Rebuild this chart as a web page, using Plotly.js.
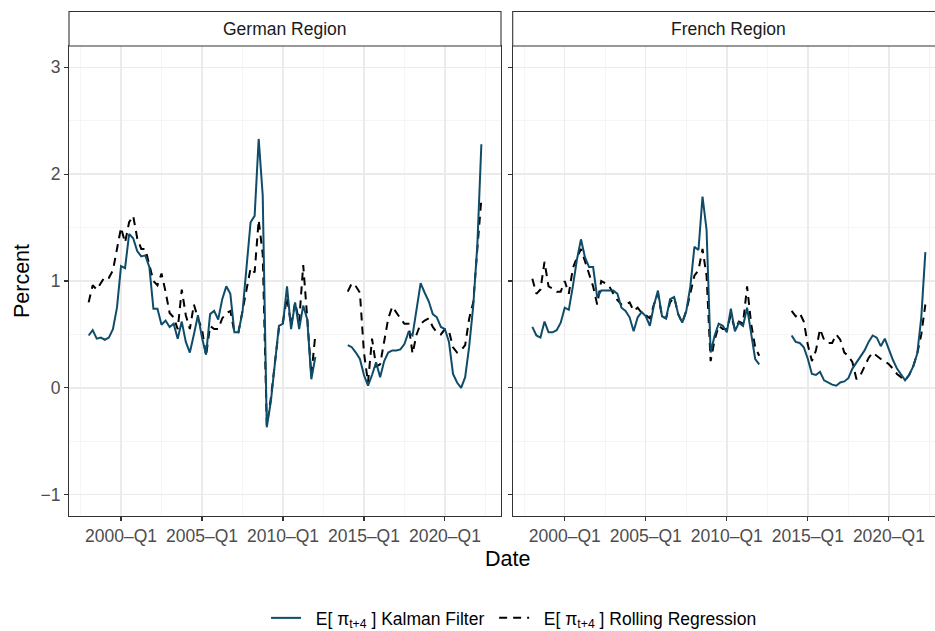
<!DOCTYPE html>
<html>
<head>
<meta charset="utf-8">
<script src="https://cdn.plot.ly/plotly-3.0.1.min.js"></script>
<style>
html,body{margin:0;padding:0;overflow:hidden;background:#fff;}
#chart{width:946px;height:631px;}
</style>
</head>
<body>
<div id="chart"></div>
<script>
// ---- data (quarterly, 1998-Q1 .. 2022-Q2; null = no estimate) ----
var startYear = 1998;
var nQuarters = 98;

var gerKalman = [
 0.49,0.54,0.46,0.47, 0.45,0.47,0.55,0.75, 1.14,1.12,1.44,1.40, 1.28,1.23,1.24,1.13,
 0.74,0.74,0.59,0.63, 0.57,0.60,0.46,0.62, 0.43,0.33,0.50,0.68, 0.47,0.31,0.69,0.72,
 0.64,0.83,0.95,0.88, 0.52,0.52,0.71,1.17, 1.55,1.61,2.33,1.80, -0.37,-0.13,0.21,0.58,
 0.60,0.95,0.55,0.80, 0.55,0.77,0.64,0.08, 0.29,null,null,null, null,null,null,null,
 0.40,0.38,0.33,0.27, 0.12,0.02,0.12,0.24, 0.10,0.25,0.33,0.35, 0.35,0.36,0.41,0.52,
 0.49,0.74,0.98,0.89, 0.81,0.69,0.66,0.57, 0.55,0.43,0.13,0.05, 0.00,0.10,0.39,0.77,
 1.33,2.28
];
var gerRolling = [
 0.80,0.96,0.92,0.98, 1.04,1.03,1.10,1.30, 1.50,1.36,1.55,1.61, 1.40,1.30,1.30,1.15,
 1.00,0.96,1.07,0.90, 0.70,0.66,0.55,0.92, 0.68,0.55,0.78,0.65, 0.55,0.30,0.58,0.55,
 0.55,0.65,0.70,0.72, 0.52,0.52,0.72,0.95, 1.12,1.08,1.57,1.25, -0.35,-0.10,0.22,0.56,
 0.62,0.85,0.58,0.80, 0.62,1.15,0.65,0.12, 0.50,null,null,null, null,null,null,null,
 0.90,0.98,0.95,0.89, 0.33,0.05,0.46,0.20, 0.22,0.45,0.65,0.76, 0.70,0.65,0.60,0.60,
 0.32,0.50,0.60,0.63, 0.65,0.57,0.52,0.50, 0.55,0.53,0.38,0.33, 0.35,0.40,0.65,0.80,
 1.30,1.77
];
var fraKalman = [
 0.57,0.49,0.47,0.62, 0.52,0.52,0.54,0.61, 0.75,0.73,0.95,1.20, 1.39,1.22,1.13,1.13,
 0.85,0.91,0.91,0.91, 0.91,0.88,0.75,0.72, 0.66,0.53,0.66,0.71, 0.67,0.58,0.77,0.91,
 0.67,0.65,0.83,0.85, 0.69,0.61,0.72,0.95, 1.32,1.29,1.79,1.48, 0.33,0.49,0.60,0.58,
 0.52,0.74,0.53,0.61, 0.58,0.75,0.49,0.27, 0.22,null,null,null, null,null,null,null,
 0.49,0.43,0.42,0.38, 0.27,0.13,0.12,0.15, 0.07,0.05,0.03,0.02, 0.05,0.06,0.09,0.18,
 0.24,0.29,0.35,0.43, 0.49,0.47,0.39,0.46, 0.36,0.26,0.18,0.12, 0.07,0.12,0.20,0.32,
 0.66,1.27
];
var fraRolling = [
 1.02,0.88,0.92,1.18, 0.95,0.93,0.90,0.90, 1.00,0.88,1.12,1.22, 1.30,1.18,1.05,0.95,
 0.78,1.00,0.98,0.95, 0.88,0.82,0.78,0.78, 0.80,0.72,0.75,0.70, 0.68,0.65,0.78,0.88,
 0.67,0.65,0.80,0.85, 0.69,0.61,0.72,0.88, 1.05,1.10,1.30,1.05, 0.25,0.45,0.58,0.55,
 0.55,0.68,0.55,0.62, 0.60,0.95,0.60,0.38, 0.30,null,null,null, null,null,null,null,
 0.72,0.67,0.70,0.62, 0.40,0.25,0.35,0.55, 0.45,0.42,0.42,0.50, 0.45,0.33,0.30,0.24,
 0.08,0.12,0.20,0.28, 0.33,0.30,0.27,0.25, 0.22,0.18,0.13,0.10, 0.07,0.12,0.20,0.32,
 0.50,0.78
];

var tickYears = [2000, 2005, 2010, 2015, 2020];
var tickLabels = ["2000\u2013Q1", "2005\u2013Q1", "2010\u2013Q1", "2015\u2013Q1", "2020\u2013Q1"];
var minorYears = [1997.5, 2002.5, 2007.5, 2012.5, 2017.5, 2022.5];
var yTicks = [-1, 0, 1, 2, 3];
var yTickLabels = ["\u22121", "0", "1", "2", "3"];
var yMinor = [-0.5, 0.5, 1.5, 2.5];
var panelNames = ["German Region", "French Region"];
var seriesNames = ["E[ \u03c0<sub>t+4</sub> ] Kalman Filter", "E[ \u03c0<sub>t+4</sub> ] Rolling Regression"];

// quarter positions (year + (quarter-1)/4)
var quarterX = [];
for (var i = 0; i < nQuarters; i++) {
  var yr = startYear + Math.floor(i / 4);
  var qn = (i % 4) + 1;
  quarterX.push(yr + (qn - 1) / 4);
}

var blue = '#0f4c69';
var font = 'Liberation Sans, Arial, Helvetica, sans-serif';
var tickSize = 17.5;
var NB = '\u00a0';

function kal(y, xa, ya, show) {
  return {x: quarterX, y: y, xaxis: xa, yaxis: ya, type: 'scatter', mode: 'lines',
    name: NB + NB + seriesNames[0] + NB, legendgroup: 'k', showlegend: show, legendrank: 1,
    line: {color: blue, width: 2}, connectgaps: false, hoverinfo: 'skip'};
}
function rol(y, xa, ya, show) {
  return {x: quarterX, y: y, xaxis: xa, yaxis: ya, type: 'scatter', mode: 'lines',
    name: NB + NB + seriesNames[1], legendgroup: 'r', showlegend: show, legendrank: 2,
    line: {color: '#000000', width: 2, dash: '8px,6px'}, connectgaps: false, hoverinfo: 'skip'};
}

var traces = [
  rol(gerRolling, 'x', 'y', true),
  kal(gerKalman, 'x', 'y', true),
  rol(fraRolling, 'x2', 'y2', false),
  kal(fraKalman, 'x2', 'y2', false)
];

var xRange = [1996.7875, 2023.4625];
var yRange = [-1.2, 3.2];

function xAxis(domain, anchor) {
  return {
    domain: domain, anchor: anchor, range: xRange,
    tickmode: 'array', tickvals: tickYears, ticktext: tickLabels,
    showgrid: true, gridcolor: '#ebebeb', gridwidth: 1.4,
    minor: {tickmode: 'array', tickvals: minorYears, showgrid: true, gridcolor: '#f2f2f2', gridwidth: 0.8, ticks: ''},
    zeroline: false, showline: true, mirror: true, linecolor: '#333333', linewidth: 1.1,
    ticks: 'outside', ticklen: 4, tickwidth: 1.1, tickcolor: '#333333',
    tickfont: {family: font, size: tickSize, color: '#4d4d4d'}
  };
}
function yAxis(domain, anchor, labels) {
  return {
    domain: domain, anchor: anchor, range: yRange,
    tickmode: 'array', tickvals: yTicks, ticktext: yTickLabels, showticklabels: labels,
    showgrid: true, gridcolor: '#ebebeb', gridwidth: 1.4,
    minor: {tickmode: 'array', tickvals: yMinor, showgrid: true, gridcolor: '#f2f2f2', gridwidth: 0.8, ticks: ''},
    zeroline: false, showline: true, mirror: true, linecolor: '#333333', linewidth: 1.1,
    ticks: 'outside', ticklen: 4, tickwidth: 1.1, tickcolor: '#333333',
    tickfont: {family: font, size: tickSize, color: '#4d4d4d'}
  };
}

var leftDom = [0, 0.49315];
var rightDom = [0.5065, 1];
var stripTop = 1 + 34.5 / 470;

var layout = {
  width: 946, height: 631,
  margin: {l: 69, r: 1, t: 46, b: 115, autoexpand: false},
  paper_bgcolor: '#ffffff', plot_bgcolor: '#ffffff',
  font: {family: font, color: '#000000'},
  showlegend: true,
  xaxis: xAxis(leftDom, 'y'),
  yaxis: Object.assign(yAxis([0, 1], 'x', true), {title: {text: 'Percent', font: {family: font, size: 21.5, color: '#000000'}, standoff: 4}}),
  xaxis2: xAxis(rightDom, 'y2'),
  yaxis2: yAxis([0, 1], 'x2', false),
  legend: {orientation: 'h', x: 0.508, xanchor: 'center', y: -0.217, yanchor: 'middle',
    font: {family: font, size: 17.5, color: '#000000'}, bgcolor: 'rgba(0,0,0,0)', traceorder: 'normal'},
  shapes: [
    {type: 'rect', xref: 'paper', yref: 'paper', x0: leftDom[0], x1: leftDom[1], y0: 1, y1: stripTop,
      fillcolor: '#ffffff', line: {color: '#333333', width: 1.1}},
    {type: 'rect', xref: 'paper', yref: 'paper', x0: rightDom[0], x1: rightDom[1], y0: 1, y1: stripTop,
      fillcolor: '#ffffff', line: {color: '#333333', width: 1.1}}
  ],
  annotations: [
    {text: panelNames[0], xref: 'paper', yref: 'paper', x: (leftDom[0] + leftDom[1]) / 2, y: (1 + stripTop) / 2,
      xanchor: 'center', yanchor: 'middle', showarrow: false, font: {family: font, size: tickSize, color: '#1a1a1a'}},
    {text: panelNames[1], xref: 'paper', yref: 'paper', x: (rightDom[0] + rightDom[1]) / 2, y: (1 + stripTop) / 2,
      xanchor: 'center', yanchor: 'middle', showarrow: false, font: {family: font, size: tickSize, color: '#1a1a1a'}},
    {text: 'Date', xref: 'paper', yref: 'paper', x: 0.5, y: -0.0915, xanchor: 'center', yanchor: 'middle',
      showarrow: false, font: {family: font, size: 21.5, color: '#000000'}}
  ]
};

Plotly.newPlot('chart', traces, layout, {staticPlot: true, displayModeBar: false});
</script>
</body>
</html>
